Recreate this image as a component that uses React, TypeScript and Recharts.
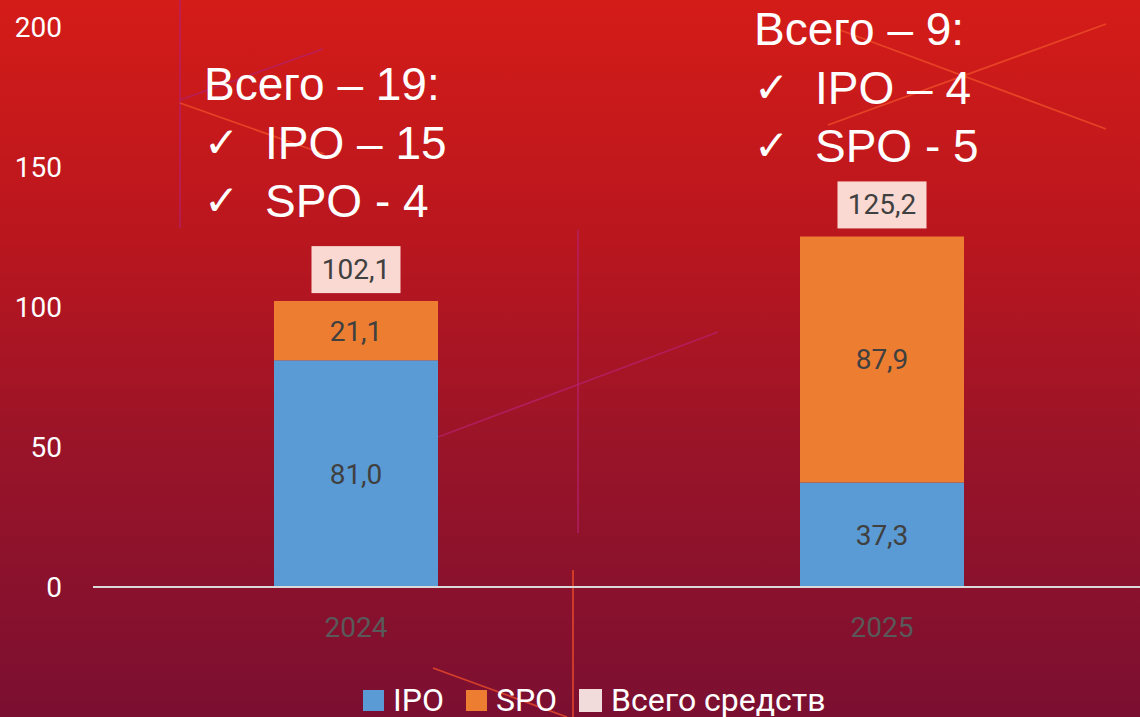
import { BarChart, Bar, XAxis, YAxis, LabelList } from "recharts"

const years = ["2024", "2025"]
const ipoValues = [81.0, 37.3]
const spoValues = [21.1, 87.9]
const totalValues = [102.1, 125.2]
const yTicks = [0, 50, 100, 150, 200]

const dealTotals = [19, 9]
const ipoDeals = [15, 4]
const spoDeals = [4, 5]

const legendNames = ["IPO", "SPO", "Всего средств"]
const legendColors = ["#5b9bd5", "#ed7d31", "#f2dcdb"]

const data = years.map((year, i) => ({
    year,
    ipo: ipoValues[i],
    spo: spoValues[i],
    total: totalValues[i],
}))

const fmt = (v: any) => Number(v).toFixed(1).replace(".", ",")
const FONT = "Roboto, 'Open Sans', sans-serif"

// thin decorative strokes from the slide background
const decoLines = [
    { x1: 180, y1: 0, x2: 180, y2: 228, c: "#b5206a" },
    { x1: 180, y1: 100, x2: 323, y2: 49, c: "#b5206a" },
    { x1: 180, y1: 103, x2: 324, y2: 154, c: "#f0502a" },
    { x1: 840, y1: 30, x2: 1106, y2: 129, c: "#f0502a" },
    { x1: 828, y1: 125, x2: 1106, y2: 24, c: "#f0502a" },
    { x1: 578, y1: 230, x2: 578, y2: 533, c: "#b5206a" },
    { x1: 438, y1: 437, x2: 718, y2: 332, c: "#b5206a" },
    { x1: 573, y1: 570, x2: 573, y2: 717, c: "#f0502a" },
    { x1: 433, y1: 668, x2: 567, y2: 717, c: "#f0502a" },
]

const TotalLabel = (props: any) => {
    const { x, y, width, value } = props
    const cx = Number(x) + Number(width) / 2
    const w = 89
    const h = 47
    const top = Number(y) - 8 - h
    return (
        <g>
            <rect x={cx - w / 2} y={top} width={w} height={h} fill="#fbd9d3" />
            <text
                x={cx}
                y={top + h / 2}
                textAnchor="middle"
                dominantBaseline="central"
                fill="#404040"
                fontSize={28}
                fontFamily={FONT}
            >
                {fmt(value)}
            </text>
        </g>
    )
}

function Annotation({ x, y, i }: { x: number; y: number; i: number }) {
    const lh = 58.5
    const textStyle = { fontFamily: "'Liberation Sans', Arial, sans-serif", fontSize: 46, fill: "#ffffff" }
    const checkStyle = { ...textStyle, fontFamily: "'DejaVu Sans', sans-serif", fontSize: 42, fontWeight: 700 }
    return (
        <g>
            <text x={x} y={y} style={textStyle}>{`Всего – ${dealTotals[i]}:`}</text>
            <text x={x} y={y + lh - 2} style={checkStyle}>✓</text>
            <text x={x + 61} y={y + lh} style={textStyle}>{`IPO – ${ipoDeals[i]}`}</text>
            <text x={x} y={y + lh * 2 - 2} style={checkStyle}>✓</text>
            <text x={x + 61} y={y + lh * 2} style={textStyle}>{`SPO - ${spoDeals[i]}`}</text>
        </g>
    )
}

export default function App() {
    return (
        <div
            style={{
                position: "absolute",
                left: 0,
                top: 0,
                width: 1140,
                height: 717,
                overflow: "hidden",
                background: "linear-gradient(to bottom, #d41c18 0%, #b8161f 35%, #9a1428 62%, #7b0f31 100%)",
            }}
        >
            <svg width={1140} height={717} style={{ position: "absolute", left: 0, top: 0 }}>
                {decoLines.map((l, i) => (
                    <line key={i} x1={l.x1} y1={l.y1} x2={l.x2} y2={l.y2} stroke={l.c} strokeWidth={1.8} strokeOpacity={0.75} />
                ))}
            </svg>
            <div style={{ position: "absolute", left: 0, top: 0 }}>
                <BarChart width={1140} height={717} data={data} margin={{ top: 27, right: -5, bottom: 70, left: 0 }}>
                    <XAxis
                        dataKey="year"
                        height={60}
                        tickLine={false}
                        tickSize={0}
                        tickMargin={30}
                        axisLine={{ stroke: "#d9d9d9", strokeWidth: 2 }}
                        tick={{ fill: "#595959", fontSize: 28, fontFamily: FONT }}
                    />
                    <YAxis
                        width={93}
                        domain={[0, 200]}
                        ticks={yTicks}
                        tickLine={false}
                        axisLine={false}
                        tickSize={0}
                        tickMargin={31}
                        tick={{ fill: "#ffffff", fontSize: 28, fontFamily: FONT }}
                    />
                    <Bar dataKey="ipo" stackId="a" fill="#5b9bd5" barSize={164} isAnimationActive={false}>
                        <LabelList dataKey="ipo" position="center" formatter={fmt} fill="#404040" fontSize={28} fontFamily={FONT} />
                    </Bar>
                    <Bar dataKey="spo" stackId="a" fill="#ed7d31" barSize={164} isAnimationActive={false}>
                        <LabelList dataKey="spo" position="center" formatter={fmt} fill="#404040" fontSize={28} fontFamily={FONT} />
                        <LabelList dataKey="total" content={TotalLabel} />
                    </Bar>
                </BarChart>
            </div>
            <svg width={1140} height={717} style={{ position: "absolute", left: 0, top: 0, pointerEvents: "none" }}>
                <Annotation x={204} y={100} i={0} />
                <Annotation x={754} y={45} i={1} />
            </svg>
            <div
                style={{
                    position: "absolute",
                    left: 363,
                    top: 682,
                    display: "flex",
                    alignItems: "center",
                    fontFamily: FONT,
                    fontSize: 32,
                    color: "#ffffff",
                }}
            >
                {legendNames.map((name, i) => (
                    <div key={name} style={{ display: "flex", alignItems: "center", marginRight: 22 }}>
                        <span
                            style={{
                                display: "inline-block",
                                width: i === 2 ? 23 : 21,
                                height: i === 2 ? 23 : 21,
                                background: legendColors[i],
                                marginRight: 9,
                            }}
                        />
                        <span style={{ lineHeight: "36px" }}>{name}</span>
                    </div>
                ))}
            </div>
        </div>
    )
}
